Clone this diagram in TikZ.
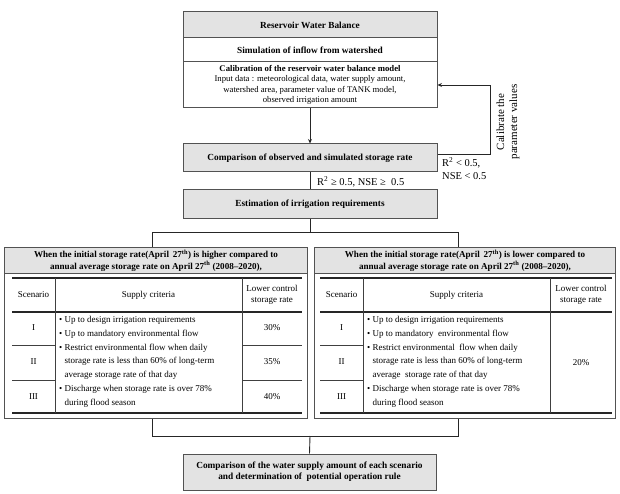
\documentclass[tikz,border=0pt]{standalone}
\usepackage{fontspec}
\setmainfont{Liberation Serif}
\usetikzlibrary{calc,arrows.meta}
\begin{document}
\begin{tikzpicture}[x=1pt,y=-1pt,
  font=\fontsize{9}{10.5}\selectfont,
  frame/.style={draw=black!68, line width=1pt},
  gbox/.style={frame, fill=black!11, minimum width=254pt, align=center, inner sep=0pt},
  wbox/.style={frame, fill=white, minimum width=254pt, align=center, inner sep=0pt},
  bf/.style={font=\fontsize{9.3}{11}\selectfont\bfseries},
  hbf/.style={font=\fontsize{9.1}{10}\selectfont\bfseries},
  lbl/.style={font=\fontsize{10.5}{13}\selectfont, inner sep=0pt},
  conn/.style={draw=black!85, line width=0.9pt},
  arr/.style={conn, -{Stealth[length=4.5pt,width=4pt]}},
  rulel/.style={draw=black!85, line width=1.4pt},
  thinl/.style={draw=black!75, line width=0.7pt},
  cell/.style={inner sep=0pt, align=center},
  blt/.style={inner sep=0pt, align=left, anchor=north west, font=\fontsize{9}{13.8}\selectfont},
]
\useasboundingbox (0,0) rectangle (620,494);

% ---------- top block ----------
\node[gbox, minimum height=26pt, bf] (rwb) at (310,25) {Reservoir Water Balance};
\node[wbox, minimum height=24pt, bf] (sim) at (310,50) {Simulation of inflow from watershed};
\node[wbox, minimum height=46pt, font=\fontsize{8.7}{10.3}\selectfont] (cal) at (310,85)
  {\textbf{Calibration of the reservoir water balance model}\\
   Input data : meteorological data, water supply amount,\\
   watershed area, parameter value of TANK model,\\
   observed irrigation amount};

\node[gbox, minimum height=28pt, bf] (cmp) at (310,158) {Comparison of observed and simulated storage rate};
\node[gbox, minimum height=28pt, bf] (est) at (310,204) {Estimation of irrigation requirements};

\draw[arr] (cal.south) -- (cmp.north);
\draw[conn] (cmp.south) -- (est.north);
\node[lbl, anchor=west] (ok) at (317,182) {R\textsuperscript{2} ≥ 0.5, NSE ≥ \ 0.5};

% feedback loop
\coordinate (fb1) at (490,154);
\coordinate (fb2) at (490,85);
\draw[arr] (cmp.east |- fb1) -- (fb1) -- (fb2) -- (cal.east);
\node[lbl, anchor=north west, align=left] (nok) at (442,157) {R\textsuperscript{2} < 0.5,\\NSE < 0.5};
\node[rotate=90, align=center, inner sep=0pt, font=\fontsize{11}{13}\selectfont] (calib) at (508,122)
  {Calibrate the\\parameter values};

% split connector
\coordinate (jt) at (310,232);
\coordinate (jl) at (152,232);
\coordinate (jr) at (458,232);
\draw[conn] (est.south) -- (jt);
\draw[conn] (jl) -- (jr);

% ---------- left table ----------
\node[frame, fill=white, minimum width=303pt, minimum height=171pt, anchor=north west, inner sep=0pt] (L) at (4,247) {};
\node[frame, fill=black!11, minimum width=303pt, minimum height=26pt, anchor=north, inner sep=0pt, align=center, hbf] (Lh) at (L.north)
  {When the initial storage rate(April \,27\textsuperscript{th}) is higher compared to\\
   annual average storage rate on April 27\textsuperscript{th} (2008–2020),};
\draw[conn] (jl) -- (jl |- L.north);

\draw[rulel] (12,278) -- (302,278);
\draw[rulel] (12,312) -- (302,312);
\draw[rulel] (12,413) -- (302,413);
\draw[thinl] (55,278) -- (55,413);
\draw[thinl] (242,278) -- (242,413);
\draw[thinl] (12,345) -- (55,345);
\draw[thinl] (12,380) -- (55,380);
\draw[thinl] (242,345) -- (302,345);
\draw[thinl] (242,380) -- (302,380);

\node[cell] (Ls) at (33.5,295) {Scenario};
\node[cell] (Lc) at (148.5,295) {Supply criteria};
\node[cell] (Lr) at (272,295) {Lower control\\storage rate};
\node[cell] (L1) at (33.5,328) {I};
\node[cell] (L2) at (33.5,362) {II};
\node[cell] (L3) at (33.5,397) {III};
\node[cell] (Lp1) at (272,328) {30\%};
\node[cell] (Lp2) at (272,362) {35\%};
\node[cell] (Lp3) at (272,397) {40\%};
\node[blt] (Lb) at (59,316)
  {• Up to design irrigation requirements\\
   • Up to mandatory environmental flow\\
   • Restrict environmental flow when daily\\
   \phantom{• }storage rate is less than 60\% of long-term\\
   \phantom{• }average storage rate of that day\\
   • Discharge when storage rate is over 78\%\\
   \phantom{• }during flood season};

% ---------- right table ----------
\node[frame, fill=white, minimum width=301pt, minimum height=171pt, anchor=north west, inner sep=0pt] (R) at (314,247) {};
\node[frame, fill=black!11, minimum width=301pt, minimum height=26pt, anchor=north, inner sep=0pt, align=center, hbf] (Rh) at (R.north)
  {When the initial storage rate(April \,27\textsuperscript{th}) is lower compared to\\
   annual average storage rate on April 27\textsuperscript{th} (2008–2020),};
\draw[conn] (jr) -- (jr |- R.north);

\draw[rulel] (320,278) -- (612,278);
\draw[rulel] (320,312) -- (612,312);
\draw[rulel] (320,413) -- (612,413);
\draw[thinl] (363,278) -- (363,413);
\draw[thinl] (550,278) -- (550,413);
\draw[thinl] (320,345) -- (363,345);
\draw[thinl] (320,380) -- (363,380);

\node[cell] (Rs) at (341.5,295) {Scenario};
\node[cell] (Rc) at (456.5,295) {Supply criteria};
\node[cell] (Rr) at (581,295) {Lower control\\storage rate};
\node[cell] (R1) at (341.5,328) {I};
\node[cell] (R2) at (341.5,362) {II};
\node[cell] (R3) at (341.5,397) {III};
\node[cell] (Rp) at (581,363) {20\%};
\node[blt] (Rb) at (367,316)
  {• Up to design irrigation requirements\\
   • Up to mandatory \ environmental flow\\
   • Restrict environmental \ flow when daily\\
   \phantom{• }storage rate is less than 60\% of long-term\\
   \phantom{• }average \ storage rate of that day\\
   • Discharge when storage rate is over 78\%\\
   \phantom{• }during flood season};

% ---------- bottom ----------
\coordinate (bl) at (152,436);
\coordinate (br) at (458,436);
\coordinate (bt) at (310,436);
\node[gbox, minimum width=253pt, minimum height=36pt, bf] (fin) at (309.5,472)
  {Comparison of the water supply amount of each scenario\\
   and determination of \ potential operation rule};
\draw[conn] (bl |- L.south) -- (bl) -- (br) -- (br |- R.south);
\draw[conn] (bt) -- (fin.north);
\end{tikzpicture}
\end{document}
